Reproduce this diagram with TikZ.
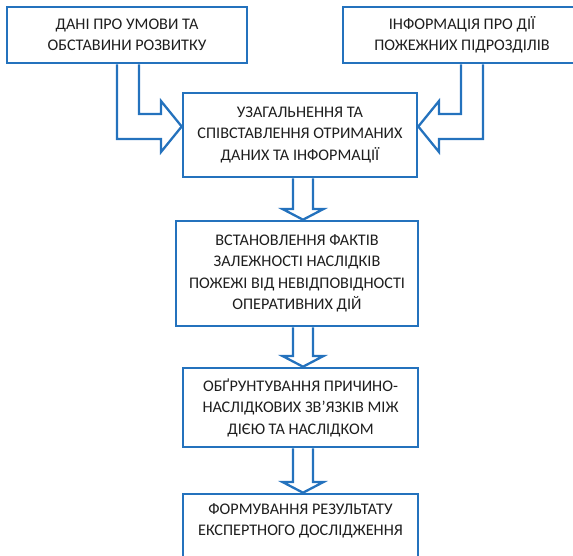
\documentclass[tikz,border=0pt]{standalone}
\usepackage{fontspec}
\setmainfont{Carlito}
\usetikzlibrary{calc}
\definecolor{bl}{RGB}{36,114,189}
\definecolor{tx}{RGB}{30,30,30}
\begin{document}
\begin{tikzpicture}[x=1pt,y=-1pt,
  box/.style={draw=bl,line width=2.6pt,fill=white,text=tx,align=center,inner sep=0pt,
    font=\fontsize{16.2}{21.5}\selectfont},
  blk/.style={draw=bl,line width=2.3pt,line join=miter}]
\useasboundingbox (0,0) rectangle (573,555);
\clip (0,0) rectangle (573,555);
\node[box,minimum width=240pt,minimum height=56pt] (b1) at (127,35) {ДАНІ ПРО УМОВИ ТА\\ОБСТАВИНИ РОЗВИТКУ};
\node[box,minimum width=238pt,minimum height=56pt] (b2) at (462,35) {ІНФОРМАЦІЯ ПРО ДІЇ\\ПОЖЕЖНИХ ПІДРОЗДІЛІВ};
\node[box,minimum width=234pt,minimum height=84pt] (b3) at (300,135) {УЗАГАЛЬНЕННЯ ТА\\СПІВСТАВЛЕННЯ ОТРИМАНИХ\\ДАНИХ ТА ІНФОРМАЦІЇ};
\node[box,minimum width=242pt,minimum height=105pt] (b4) at (297,273.5) {ВСТАНОВЛЕННЯ ФАКТІВ\\ЗАЛЕЖНОСТІ НАСЛІДКІВ\\ПОЖЕЖІ ВІД НЕВІДПОВІДНОСТІ\\ОПЕРАТИВНИХ ДІЙ};
\node[box,minimum width=235pt,minimum height=79pt] (b5) at (300.5,407.5) {ОБҐРУНТУВАННЯ ПРИЧИНО-\\НАСЛІДКОВИХ ЗВ’ЯЗКІВ МІЖ\\ДІЄЮ ТА НАСЛІДКОМ};
\node[box,minimum width=235pt,minimum height=79pt] (b6) at (300.5,533.5) {ФОРМУВАННЯ РЕЗУЛЬТАТУ\\ЕКСПЕРТНОГО ДОСЛІДЖЕННЯ\\\strut};
% elbow arrows
\draw[blk] (b1.south -| 139,0) -- (139,114) -- (161,114) -- (161,101) -- (b3.west |- 0,126.5)
  -- (161,152) -- (161,139) -- (117,139) -- (b1.south -| 117,0);
\draw[blk] (b2.south -| 461,0) -- (461,114) -- (439,114) -- (439,101) -- (b3.east |- 0,126.5)
  -- (439,152) -- (439,139) -- (483,139) -- (b2.south -| 483,0);
% down arrows
\draw[blk] (b3.south -| 293,0) -- (293,209) -- (282.5,209) -- (b4.north -| 303,0)
  -- (323.5,209) -- (313,209) -- (b3.south -| 313,0);
\draw[blk] (b4.south -| 293,0) -- (293,356) -- (282.5,356) -- (b5.north -| 303,0)
  -- (323.5,356) -- (313,356) -- (b4.south -| 313,0);
\draw[blk] (b5.south -| 293,0) -- (293,482) -- (282.5,482) -- (b6.north -| 303,0)
  -- (323.5,482) -- (313,482) -- (b5.south -| 313,0);
\end{tikzpicture}
\end{document}
